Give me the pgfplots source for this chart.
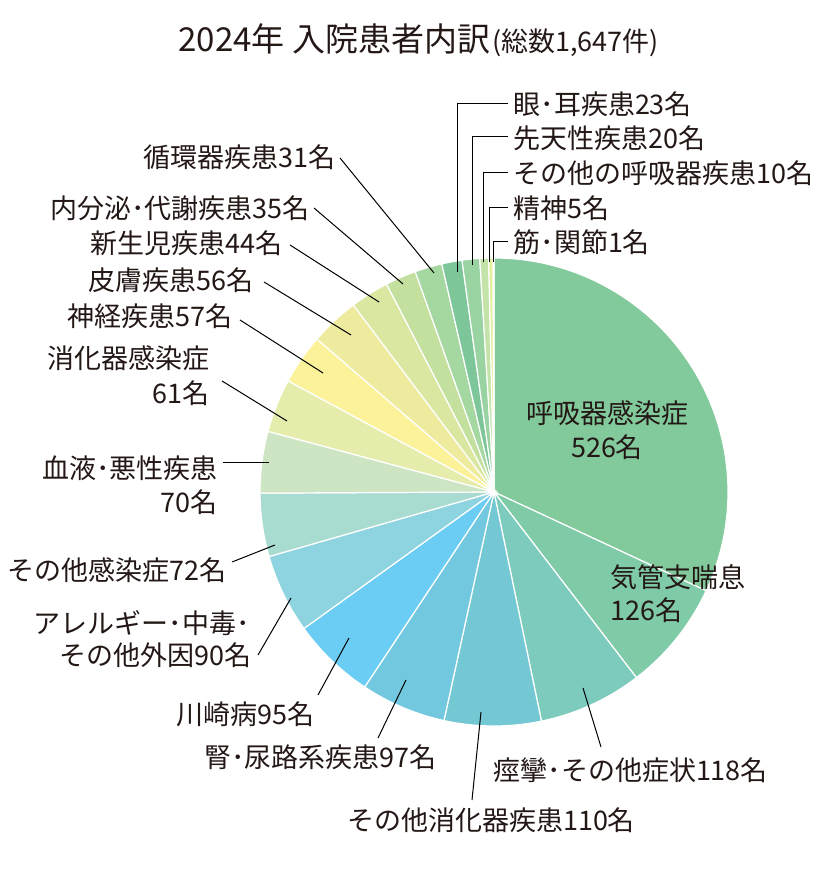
\documentclass[border=0pt]{standalone}
\usepackage{pgfplots}
\usepackage{pgfplotstable}
\pgfplotsset{compat=1.18}
\usepackage{fontspec}
\setmainfont{Noto Sans CJK JP}

% slice colours, clockwise from the top
\definecolor{c01}{HTML}{82C99C}
\definecolor{c02}{HTML}{7FCBA8}
\definecolor{c03}{HTML}{7DCBBD}
\definecolor{c04}{HTML}{74C8D3}
\definecolor{c05}{HTML}{72C9DF}
\definecolor{c06}{HTML}{6BCDF3}
\definecolor{c07}{HTML}{8DD3E0}
\definecolor{c08}{HTML}{A9DCD1}
\definecolor{c09}{HTML}{CDE5C3}
\definecolor{c10}{HTML}{E6EDAC}
\definecolor{c11}{HTML}{FBF29A}
\definecolor{c12}{HTML}{EEEB9E}
\definecolor{c13}{HTML}{D9E7A0}
\definecolor{c14}{HTML}{C3E09F}
\definecolor{c15}{HTML}{A5D7A1}
\definecolor{c16}{HTML}{7CC69A}
\definecolor{c17}{HTML}{9AD3A2}
\definecolor{c18}{HTML}{C3E3A9}
\definecolor{c19}{HTML}{E5EE9F}
\definecolor{c20}{HTML}{FFF5A0}
\definecolor{txt}{HTML}{231815}

\pgfplotstableread{
value col
526 c01
126 c02
118 c03
110 c04
97  c05
95  c06
90  c07
72  c08
70  c09
61  c10
57  c11
56  c12
44  c13
35  c14
31  c15
23  c16
20  c17
10  c18
5   c19
1   c20
}\pie

\newcommand\lab{\fontsize{13.5}{16}\selectfont}

\begin{document}
\begin{tikzpicture}
\begin{axis}[
  hide axis, x=0.5pt, y=0.5pt,
  xmin=0, xmax=839, ymin=0, ymax=871,
  clip=false,
]
\path (axis cs:0,0) rectangle (axis cs:839,871);

% total
\pgfplotstablegetrowsof{\pie}\pgfmathtruncatemacro\nrows{\pgfplotsretval-1}
\def\total{0}
\pgfplotsforeachungrouped \i in {0,...,\nrows}{%
  \pgfplotstablegetelem{\i}{value}\of\pie
  \pgfmathsetmacro\total{\total+\pgfplotsretval}}

% slices
\def\cum{0}
\pgfplotsforeachungrouped \i in {0,...,\nrows}{%
  \pgfplotstablegetelem{\i}{value}\of\pie \let\v\pgfplotsretval
  \pgfplotstablegetelem{\i}{col}\of\pie \let\cc\pgfplotsretval
  \pgfmathsetmacro\sa{90-\cum/\total*360}
  \pgfmathsetmacro\cum{\cum+\v}
  \pgfmathsetmacro\ea{90-\cum/\total*360}
  \edef\temp{\noexpand\fill[\cc, draw=white, line width=0.6pt]
    (axis cs:494,379) -- ++(\sa:117pt)
    arc[start angle=\sa, end angle=\ea, radius=117pt] -- cycle;}
  \temp
}

% title
\node[anchor=west, text=txt, inner sep=0] at (axis cs:178,831)
  {{\fontsize{16.5}{20}\selectfont 2024年 入院患者内訳}\hspace{1pt}{\fontsize{13.5}{16}\selectfont (総数1,647件)}};

% labels inside
\node[text=txt] at (axis cs:607,458) {\lab 呼吸器感染症};
\node[text=txt] at (axis cs:607,424) {\lab 526名};
\node[text=txt, anchor=west] at (axis cs:603,294) {\lab 気管支喘息};
\node[text=txt, anchor=west] at (axis cs:603,261) {\lab 126名};

\begin{scope}[every node/.style={text=txt, inner sep=0}, line width=0.5pt]
% top right
\node[anchor=west] at (axis cs:513,767) {\lab 眼･耳疾患23名};
\node[anchor=west] at (axis cs:513,733) {\lab 先天性疾患20名};
\node[anchor=west] at (axis cs:513,698) {\lab その他の呼吸器疾患10名};
\node[anchor=west] at (axis cs:513,663) {\lab 精神5名};
\node[anchor=west] at (axis cs:513,629) {\lab 筋･関節1名};
\draw (axis cs:508,767) -- (axis cs:457,767) -- (axis cs:457,599);
\draw (axis cs:508,734) -- (axis cs:472,734) -- (axis cs:472,606);
\draw (axis cs:508,698) -- (axis cs:483,698) -- (axis cs:483,609);
\draw (axis cs:508,663) -- (axis cs:489,663) -- (axis cs:489,609);
\draw (axis cs:508,629) -- (axis cs:493,629) -- (axis cs:493,609);

% left
\node[anchor=east] at (axis cs:336,714) {\lab 循環器疾患31名};
\draw (axis cs:340,713) -- (axis cs:434,598);
\node[anchor=east] at (axis cs:310,663) {\lab 内分泌･代謝疾患35名};
\draw (axis cs:314,663) -- (axis cs:403,587);
\node[anchor=east] at (axis cs:283,628) {\lab 新生児疾患44名};
\draw (axis cs:290,626) -- (axis cs:379,569);
\node[anchor=east] at (axis cs:254,591) {\lab 皮膚疾患56名};
\draw (axis cs:264,589) -- (axis cs:351,536);
\node[anchor=east] at (axis cs:233,555) {\lab 神経疾患57名};
\draw (axis cs:240,551) -- (axis cs:323,498);
\node[anchor=east] at (axis cs:210,513) {\lab 消化器感染症};
\node[anchor=east] at (axis cs:210,478) {\lab 61名};
\draw (axis cs:222,490) -- (axis cs:287,450);
\node[anchor=east] at (axis cs:218,403) {\lab 血液･悪性疾患};
\node[anchor=east] at (axis cs:218,369) {\lab 70名};
\draw (axis cs:223,408) -- (axis cs:269,408);
\node[anchor=east] at (axis cs:227,301) {\lab その他感染症72名};
\draw (axis cs:232,309) -- (axis cs:275,326);
\node[anchor=east] at (axis cs:250,248) {\lab アレルギー･中毒･};
\node[anchor=east] at (axis cs:252,216) {\lab その他外因90名};
\draw (axis cs:258,216) -- (axis cs:291,273);
\node[anchor=east] at (axis cs:315,157) {\lab 川崎病95名};
\draw (axis cs:318,176) -- (axis cs:349,233);
\node[anchor=east] at (axis cs:437,114) {\lab 腎･尿路系疾患97名};
\draw (axis cs:378,133) -- (axis cs:406,191);
\node at (axis cs:491,51) {\lab その他消化器疾患110名};
\draw (axis cs:472,71) -- (axis cs:481,159);
\node[anchor=west] at (axis cs:493,101) {\lab 痙攣･その他症状118名};
\draw (axis cs:601,124) -- (axis cs:583,183);
\end{scope}
\end{axis}
\end{tikzpicture}
\end{document}
